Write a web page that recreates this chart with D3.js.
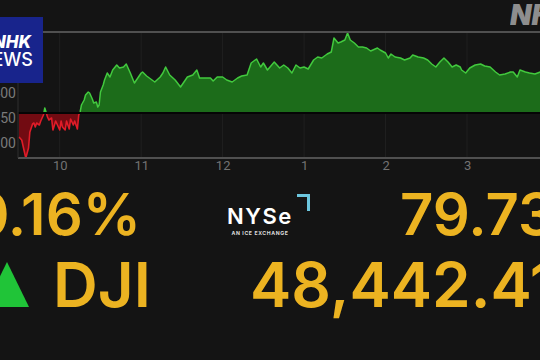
<!DOCTYPE html>
<html><head><meta charset="utf-8">
<script src="https://cdn.jsdelivr.net/npm/d3@7"></script>
<style>
html,body{margin:0;padding:0;background:#141414;overflow:hidden}
svg{display:block}
</style></head>
<body>
<script>
// ---- data ----
const minutes = [0,2,4,5,7,8,10,11,12,13,15,16,18,19,21,22,24,25,27,28,30,31,32,34,35,37,38,40,41,43,44,45,46,48,49,51,52,54,55,57,58,59,60,62,63,65,67,69,72,74,77,79,81,82,85,88,90,91,94,96,100,104,106,108,111,115,119,121,124,128,131,133,137,141,143,146,150,153,157,161,164,168,171,175,178,180,183,188,192,195,198,201,204,207,210,213,217,220,223,227,230,232,235,237,240,242,244,247,250,253,256,259,264,266,270,272,274,277,281,284,288,290,294,298,301,304,307,310,313,316,319,322,325,326,329,332,336,340,343,347,351,354,358,362,364,367,369,373,376,380,384,387];
const values = [48313,48307,48283,48271,48291,48323,48339,48341,48333,48341,48337,48345,48357,48371,48353,48347,48351,48327,48345,48339,48327,48345,48333,48327,48345,48329,48349,48337,48345,48329,48357,48363,48377,48387,48397,48403,48401,48389,48381,48383,48373,48377,48403,48417,48427,48441,48433,48447,48457,48451,48453,48459,48447,48441,48421,48433,48441,48443,48435,48431,48423,48433,48441,48453,48437,48427,48413,48421,48433,48437,48447,48431,48431,48431,48425,48433,48433,48427,48423,48431,48435,48437,48461,48469,48453,48461,48447,48463,48451,48457,48451,48441,48457,48451,48453,48449,48467,48473,48471,48479,48483,48511,48501,48503,48507,48521,48507,48501,48493,48493,48491,48485,48491,48487,48481,48471,48479,48473,48471,48467,48471,48477,48473,48471,48467,48459,48453,48463,48471,48463,48453,48457,48453,48447,48441,48451,48457,48459,48455,48453,48443,48437,48439,48443,48443,48433,48447,48443,48441,48439,48443,48441];
const prevClose = 48362.68;
const yTicks = [48300,48350,48400];
const hourTicks = [30,90,150,210,270,330];
const hourLabels = ["10","11","12","1","2","3"];
const indexName = "DJI";
const changePct = "0.16%";
const changePts = "79.73";
const lastValue = "48,442.41";

const W = 540, H = 360;
const svg = d3.select("body").append("svg").attr("width",W).attr("height",H);
svg.append("rect").attr("width",W).attr("height",H).attr("fill","#141414");

const x = d3.scaleLinear().domain([0,390]).range([19,548.5]);
const y = d3.scaleLinear().domain([48271,48523]).range([158,32]);
const data = minutes.map((m,i)=>({m, v:values[i]}));
const by = y(prevClose);

// vertical faint gridlines
svg.append("g").selectAll("line").data(hourTicks).join("line")
  .attr("x1",d=>x(d)).attr("x2",d=>x(d)).attr("y1",33).attr("y2",158)
  .attr("stroke","rgba(255,255,255,0.05)").attr("stroke-width",1);

const defs = svg.append("defs");
defs.append("clipPath").attr("id","above").append("rect")
  .attr("x",0).attr("y",0).attr("width",W).attr("height",by);
defs.append("clipPath").attr("id","below").append("rect")
  .attr("x",0).attr("y",by).attr("width",W).attr("height",H-by);

const area = d3.area().x(d=>x(d.m)).y0(by).y1(d=>y(d.v));
const line = d3.line().x(d=>x(d.m)).y(d=>y(d.v));

svg.append("path").datum(data).attr("d",area).attr("fill","#1c6c1a").attr("clip-path","url(#above)");
svg.append("path").datum(data).attr("d",area).attr("fill","#720b12").attr("clip-path","url(#below)");
svg.append("path").datum(data).attr("d",line).attr("fill","none").attr("stroke","#42c93e")
  .attr("stroke-width",1.5).attr("stroke-linejoin","round").attr("clip-path","url(#above)");
svg.append("path").datum(data).attr("d",line).attr("fill","none").attr("stroke","#e01c28")
  .attr("stroke-width",1.6).attr("stroke-linejoin","round").attr("clip-path","url(#below)");

// baseline
svg.append("line").attr("x1",18).attr("x2",W).attr("y1",by+0.8).attr("y2",by+0.8)
  .attr("stroke","#050505").attr("stroke-width",2);

// frame lines
svg.append("line").attr("x1",18).attr("x2",W).attr("y1",32).attr("y2",32).attr("stroke","#505050").attr("stroke-width",2);
svg.append("line").attr("x1",18).attr("x2",W).attr("y1",158).attr("y2",158).attr("stroke","#505050").attr("stroke-width",2);
svg.append("line").attr("x1",18).attr("x2",18).attr("y1",32).attr("y2",158).attr("stroke","#2e2e2e").attr("stroke-width",1);

// y axis labels
const yAxis = d3.axisLeft(y).tickValues(yTicks).tickSize(0).tickPadding(0).tickFormat(d3.format(","));
const ga = svg.append("g").attr("transform","translate(16,0)").call(yAxis);
ga.select(".domain").remove();
ga.selectAll("text").attr("fill","#7a7a7a").attr("font-family","Roboto, sans-serif").attr("font-size",14);

// x axis labels
const xAxis = d3.axisBottom(x).tickValues(hourTicks).tickSize(0).tickPadding(0).tickFormat((d,i)=>hourLabels[i]);
const gx = svg.append("g").attr("transform","translate(0,161)").call(xAxis);
gx.select(".domain").remove();
gx.selectAll("text").attr("fill","#727272").attr("font-family","Roboto, sans-serif").attr("font-size",13);

// NHK NEWS logo box
svg.append("rect").attr("x",-10).attr("y",17).attr("width",53).attr("height",66).attr("fill","#18248c");
svg.append("text").attr("x",31).attr("y",48).attr("text-anchor","end").attr("fill","#fff")
  .attr("font-family","Inter, sans-serif").attr("font-weight",800).attr("font-style","italic").attr("font-size",17).text("NHK");
svg.append("text").attr("x",33).attr("y",65.5).attr("text-anchor","end").attr("fill","#fff")
  .attr("font-family","Inter, sans-serif").attr("font-weight",500).attr("font-size",18).text("NEWS");

// watermark
svg.append("text").attr("x",510).attr("y",25).attr("fill","#9c9c9c").attr("opacity",0.9)
  .attr("font-family","Inter, sans-serif").attr("font-weight",900).attr("font-style","italic").attr("font-size",28).text("NHK");

// big numbers
const gold = "#ecb321";
const big = (t,xx,yy,size,anchor)=>svg.append("text").attr("x",xx).attr("y",yy).attr("text-anchor",anchor)
  .attr("fill",gold).attr("font-family","Inter, sans-serif").attr("font-weight",600).attr("font-size",size).text(t);
big(changePct,141,235,58,"end");
big(changePts,400,235,58,"start");
big(indexName,53,307,62,"start");
big(lastValue,250,307,62,"start");

// up triangle
svg.append("path").attr("d",d3.line()([[7,262],[29,307],[-15,307]])+"Z").attr("fill","#20c438");

// NYSE logo
svg.append("text").attr("x",227).attr("y",224).attr("fill","#fff").attr("font-family","Inter, sans-serif")
  .attr("font-weight",600).attr("font-size",22).attr("letter-spacing",1.5).text("NYSe");
svg.append("text").attr("x",260).attr("y",235).attr("text-anchor","middle").attr("fill","#ddd").attr("font-family","Inter, sans-serif")
  .attr("font-weight",700).attr("font-size",5.2).attr("letter-spacing",0.6).text("AN ICE EXCHANGE");
svg.append("path").attr("d","M297,195.5 H308.5 V211").attr("fill","none").attr("stroke","#6cc6de").attr("stroke-width",3);
</script>
</body></html>
